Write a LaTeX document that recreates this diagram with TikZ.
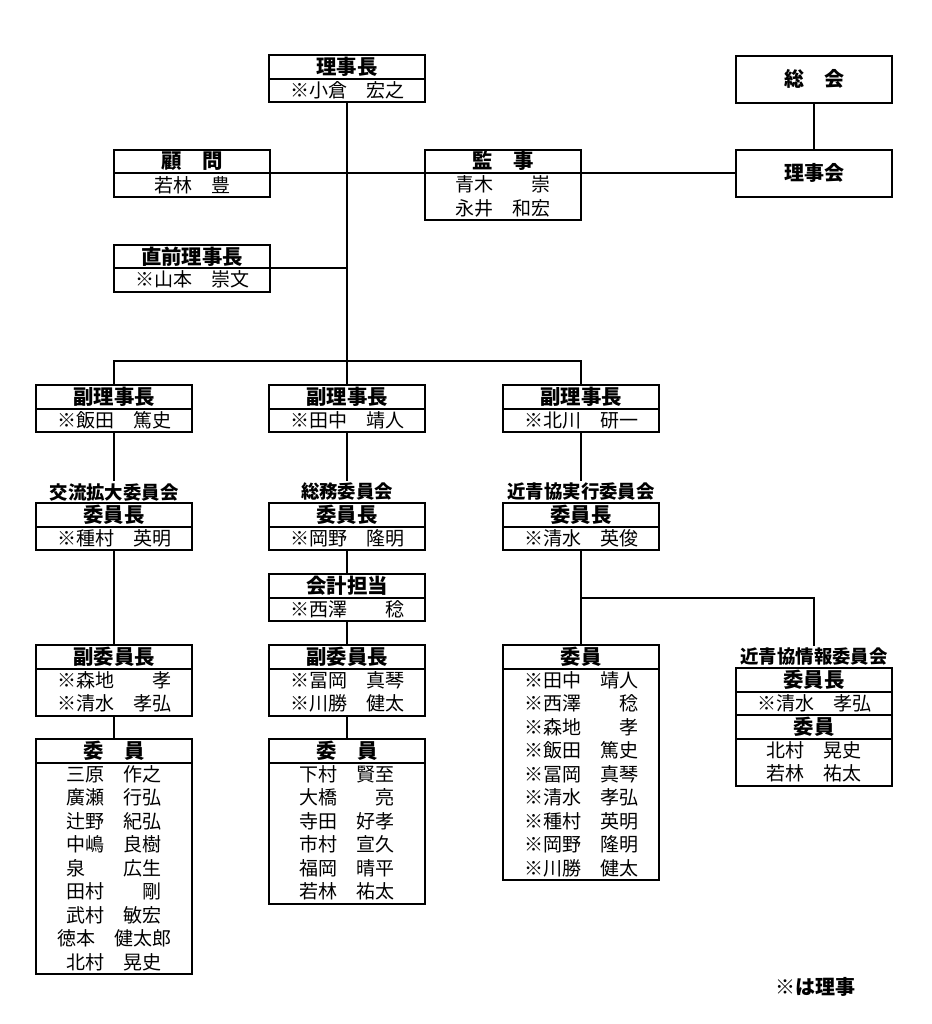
\documentclass[tikz,border=0pt]{standalone}
\usepackage{fontspec}
\newfontfamily\jp{Noto Sans CJK JP}
\usetikzlibrary{positioning}

\begin{document}
\begin{tikzpicture}[x=0.5pt,y=-0.5pt]
    \tikzset{line/.style={draw,line width=1pt}}
    \tikzset{box/.style={line,rectangle,minimum width=78pt,inner sep=0pt,outer sep=0pt,align=center,font=\jp\fontsize{9.5pt}{11.75pt}\selectfont}}
    \tikzset{head/.style={box,minimum height=11.75pt,font=\jp\bfseries\fontsize{10.2pt}{11.75pt}\selectfont}}
    \tikzset{body/.style={box,minimum height=#1*11.75pt}}
    \tikzset{title/.style={inner sep=1pt,font=\jp\bfseries\fontsize{9.2pt}{11pt}\selectfont}}

    \useasboundingbox (0,0) rectangle (932,1024);

    % top
    \node[head] (rj) at (347, 66.75) {理事長};
    \node[body=1,below=0pt of rj] (rj2) {※小倉　宏之};
    \node[body=2,font=\jp\bfseries\fontsize{10pt}{11.75pt}\selectfont] (sk) at (814, 79) {総　会};
    \node[body=2,font=\jp\bfseries\fontsize{10pt}{11.75pt}\selectfont] (rjk) at (814, 173) {理事会};
    \node[head] (km) at (192, 161.25) {顧　問};
    \node[body=1,below=0pt of km] (km2) {若林　豊};
    \node[head] (ks) at (503, 161.25) {監　事};
    \node[body=2,below=0pt of ks] (ks2) {青木　　崇\\永井　和宏};
    \node[head] (zr) at (192, 256.25) {直前理事長};
    \node[body=1,below=0pt of zr] (zr2) {※山本　崇文};

    \path[line] (sk) to (rjk);
    \path[line] (km.south east) to (ks.south west);
    \path[line] (ks.south east) to (rjk.west);
    \path[line] (zr.south east) to (zr.south east -| rj2.south);

    % vice chairs
    \coordinate (bus) at (347, 361);
    \node[head] (v1) at (114, 396.75) {副理事長};
    \node[body=1,below=0pt of v1] (v12) {※飯田　篤史};
    \node[head] (v2) at (347, 396.75) {副理事長};
    \node[body=1,below=0pt of v2] (v22) {※田中　靖人};
    \node[head] (v3) at (581, 396.75) {副理事長};
    \node[body=1,below=0pt of v3] (v32) {※北川　研一};

    \path[line] (rj2.south) to (v2.north);
    \path[line] (v1.north) |- (bus) -| (v3.north);

    % committees
    \node[title] (t1) at (114, 492) {交流拡大委員会};
    \node[title] (t2) at (347, 492) {総務委員会};
    \node[title] (t3) at (581, 492) {近青協実行委員会};
    \path[line] (v12.south) to (t1.north);
    \path[line] (v22.south) to (t2.north);
    \path[line] (v32.south) to (t3.north);

    \node[head] (c1) at (114, 514.75) {委員長};
    \node[body=1,below=0pt of c1] (c12) {※種村　英明};
    \node[head] (c2) at (347, 514.75) {委員長};
    \node[body=1,below=0pt of c2] (c22) {※岡野　隆明};
    \node[head] (c3) at (581, 514.75) {委員長};
    \node[body=1,below=0pt of c3] (c32) {※清水　英俊};

    \node[head] (kk) at (347, 585.75) {会計担当};
    \node[body=1,below=0pt of kk] (kk2) {※西澤　　稔};

    \node[head] (s1) at (114, 656.75) {副委員長};
    \node[body=2,below=0pt of s1] (s12) {※森地　　孝\\※清水　孝弘};
    \node[head] (s2) at (347, 656.75) {副委員長};
    \node[body=2,below=0pt of s2] (s22) {※冨岡　真琴\\※川勝　健太};

    \node[head] (i1) at (114, 750.75) {委　員};
    \node[body=9,below=0pt of i1] (i12) {三原　作之\\廣瀬　行弘\\辻野　紀弘\\中嶋　良樹\\泉　　広生\\田村　　剛\\武村　敏宏\\徳本　健太郎\\北村　晃史};
    \node[head] (i2) at (347, 750.75) {委　員};
    \node[body=6,below=0pt of i2] (i22) {下村　賢至\\大橋　　亮\\寺田　好孝\\市村　宣久\\福岡　晴平\\若林　祐太};
    \node[head] (i3) at (581, 656.75) {委員};
    \node[body=9,below=0pt of i3] (i32) {※田中　靖人\\※西澤　　稔\\※森地　　孝\\※飯田　篤史\\※冨岡　真琴\\※清水　孝弘\\※種村　英明\\※岡野　隆明\\※川勝　健太};

    \path[line] (c12.south) to (s1.north);
    \path[line] (s12.south) to (i1.north);
    \path[line] (c22.south) to (kk.north);
    \path[line] (kk2.south) to (s2.north);
    \path[line] (s22.south) to (i2.north);
    \path[line] (c32.south) to (i3.north);

    % information committee
    \coordinate (br) at (581, 598);
    \node[title] (t4) at (814, 657) {近青協情報委員会};
    \node[head] (j1) at (814, 679.75) {委員長};
    \node[body=1,below=0pt of j1] (j12) {※清水　孝弘};
    \node[head,below=0pt of j12] (j2) {委員};
    \node[body=2,below=0pt of j2] (j22) {北村　晃史\\若林　祐太};
    \path[line] (br) -| (t4.north);

    \node[font=\jp\bfseries\fontsize{10pt}{12pt}\selectfont] (note) at (815, 987) {※は理事};
\end{tikzpicture}
\end{document}
